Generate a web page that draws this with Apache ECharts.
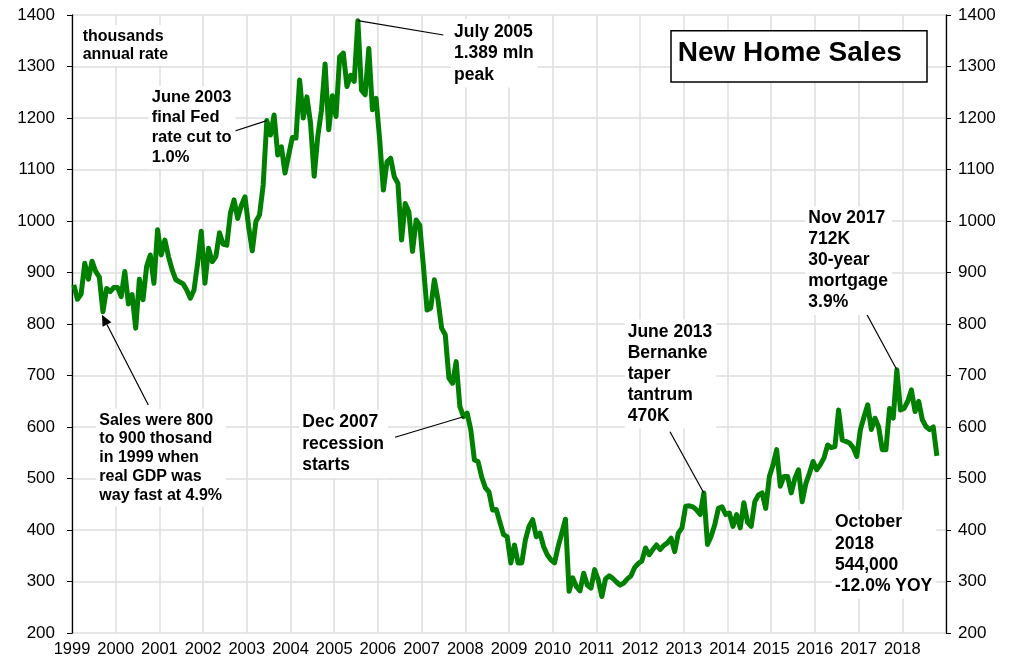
<!DOCTYPE html>
<html><head><meta charset="utf-8">
<script src="https://cdn.jsdelivr.net/npm/echarts@6/dist/echarts.min.js"></script>
<style>html,body{margin:0;padding:0;background:#fff}#c{width:1026px;height:659px}</style>
</head><body><div id="c"></div>
<script>
// New home sales, thousands, seasonally adjusted annual rate (monthly, Jan 1999 - Oct 2018)
const startYear = 1999;
const sales1999 = [876, 848, 858, 918, 887, 922, 902, 891, 824, 869, 863, 871];
const sales2000 = [871, 853, 902, 839, 857, 792, 887, 847, 912, 934, 879, 983];
const sales2001 = [934, 963, 931, 905, 886, 882, 878, 866, 850, 866, 918, 980];
const sales2002 = [879, 947, 921, 931, 977, 955, 953, 1015, 1041, 1005, 1030, 1047];
const sales2003 = [989, 942, 999, 1012, 1070, 1195, 1167, 1206, 1128, 1144, 1093, 1128];
const sales2004 = [1162, 1161, 1274, 1200, 1241, 1190, 1087, 1165, 1215, 1305, 1177, 1243];
const sales2005 = [1203, 1319, 1326, 1261, 1283, 1271, 1389, 1254, 1245, 1335, 1216, 1238];
const sales2006 = [1157, 1060, 1115, 1122, 1086, 1073, 963, 1034, 1018, 941, 1002, 992];
const sales2007 = [912, 827, 831, 886, 847, 792, 779, 695, 685, 727, 640, 620];
const sales2008 = [627, 595, 536, 533, 503, 482, 474, 439, 440, 415, 391, 387];
const sales2009 = [336, 371, 336, 336, 381, 407, 420, 387, 394, 368, 352, 342];
const sales2010 = [336, 368, 394, 421, 281, 307, 290, 282, 316, 293, 287, 323];
const sales2011 = [303, 271, 305, 311, 306, 299, 293, 297, 305, 311, 327, 335];
const sales2012 = [340, 365, 352, 362, 371, 362, 370, 375, 384, 358, 394, 404];
const sales2013 = [446, 447, 445, 439, 430, 472, 372, 388, 410, 442, 445, 430];
const sales2014 = [433, 407, 430, 404, 453, 415, 407, 455, 468, 472, 442, 504];
const sales2015 = [526, 556, 485, 504, 504, 472, 500, 517, 455, 490, 510, 533];
const sales2016 = [517, 527, 540, 565, 560, 562, 633, 575, 572, 569, 560, 543];
const sales2017 = [595, 620, 643, 595, 617, 600, 556, 556, 636, 617, 711, 633];
const sales2018 = [636, 650, 672, 630, 650, 614, 601, 595, 600, 544];
const salesByYear = [sales1999, sales2000, sales2001, sales2002, sales2003, sales2004, sales2005,
  sales2006, sales2007, sales2008, sales2009, sales2010, sales2011, sales2012, sales2013,
  sales2014, sales2015, sales2016, sales2017, sales2018];

const xMin = 1999, xMax = 2019;
const yMin = 200, yMax = 1400, yStep = 100;

const data = [];
salesByYear.forEach((arr, yi) => arr.forEach((v, mi) => data.push([startYear + yi + (mi + 0.5) / 12, v])));

const FONT = '"Liberation Sans", Arial, Helvetica, sans-serif';
const chart = echarts.init(document.getElementById('c'), null, {renderer: 'canvas'});
const yAxisBase = {
  type: 'value', min: yMin, max: yMax, interval: yStep,
  axisLine: {show: true, lineStyle: {color: '#000', width: 1.3}},
  axisTick: {show: true, length: 5, inside: false, lineStyle: {color: '#000', width: 1}},
};
chart.setOption({
  animation: false,
  backgroundColor: '#fff',
  grid: {left: 72, right: 80, top: 15, bottom: 26, containLabel: false},
  xAxis: {
    type: 'value', min: xMin, max: xMax, interval: 1,
    axisLine: {show: false}, axisTick: {show: false},
    axisLabel: {formatter: v => (v >= xMax ? '' : String(v)), fontSize: 16.5, color: '#000', fontFamily: FONT, margin: 8},
    splitLine: {show: true, lineStyle: {color: '#dedede', width: 1.5}}
  },
  yAxis: [
    Object.assign({}, yAxisBase, {position: 'left',
      axisLabel: {formatter: v => String(v), fontSize: 17, color: '#000', fontFamily: FONT, margin: 17},
      splitLine: {show: true, lineStyle: {color: '#dedede', width: 1.5}}}),
    Object.assign({}, yAxisBase, {position: 'right',
      axisLabel: {formatter: v => String(v), fontSize: 17, color: '#000', fontFamily: FONT, margin: 12},
      splitLine: {show: false}})
  ],
  series: [{
    type: 'line', data: data, yAxisIndex: 0, showSymbol: false, symbol: 'none',
    lineStyle: {color: '#008000', width: 5, join: 'round'}, z: 3
  }]
});

function pt(year, monthIdx) {
  const v = salesByYear[year - startYear][monthIdx];
  return chart.convertToPixel({seriesIndex: 0}, [year + (monthIdx + 0.5) / 12, v]);
}

function label(text, left, top, size, lh) {
  return {
    type: 'text', z: 20, x: left - 3, y: top - 2,
    style: {text: text, font: 'bold ' + size + 'px ' + FONT, fill: '#000', lineHeight: lh,
      backgroundColor: '#fff', padding: [2, 4, 2, 3], align: 'left', verticalAlign: 'top'}
  };
}
function seg(a, b) {
  return {type: 'line', z: 15, shape: {x1: a[0], y1: a[1], x2: b[0], y2: b[1]},
    style: {stroke: '#000', lineWidth: 1.2}};
}

const pJun03 = pt(2003, 5), pJul05 = pt(2005, 6), pSep99 = pt(1999, 8),
      pDec07 = pt(2007, 11), pJun13 = pt(2013, 5), pNov17 = pt(2017, 10);

// arrow for 1999 note
const tail = [148.3, 405];
const tip = [pSep99[0] - 1, pSep99[1] + 3];
const dx = tip[0] - tail[0], dy = tip[1] - tail[1], len = Math.hypot(dx, dy);
const ux = dx / len, uy = dy / len, px = -uy, py = ux;
const hl = 11, hw = 5;
const base = [tip[0] - hl * ux, tip[1] - hl * uy];

const graphics = [
  label('thousands\nannual rate', 82.7, 27, 16, 18.5),
  label('June 2003\nfinal Fed\nrate cut to\n1.0%', 151.7, 88, 16.5, 19.8),
  label('July 2005\n1.389 mln\npeak', 454, 21, 17.5, 21.5),
  label('Sales were 800\nto 900 thosand\nin 1999 when\nreal GDP was\nway fast at 4.9%', 99.3, 410.8, 16, 18.75),
  label('Dec 2007\nrecession\nstarts', 302.3, 411.7, 17.5, 21.5),
  label('June 2013\nBernanke\ntaper\ntantrum\n470K', 627.7, 321.5, 17.5, 21),
  label('Nov 2017\n712K\n30-year\nmortgage\n3.9%', 808.3, 208, 17.5, 21),
  label('October\n2018\n544,000\n-12.0% YOY', 835, 512, 17.5, 21.2),
  seg([231, 132.3], pJun03),
  seg(pJul05, [443.3, 35]),
  seg([395, 437.3], pDec07),
  seg([670, 431.7], pJun13),
  seg([862.7, 306.7], pNov17),
  seg(tail, base),
  {type: 'polygon', z: 16, shape: {points: [tip, [base[0] + hw * px, base[1] + hw * py], [base[0] - hw * px, base[1] - hw * py]]},
    style: {fill: '#000'}},
  {type: 'rect', z: 20, shape: {x: 671, y: 30.7, width: 256, height: 51.3},
    style: {fill: '#fff', stroke: '#000', lineWidth: 1.5}},
  {type: 'text', z: 21, x: 677.7, y: 53,
    style: {text: 'New Home Sales', font: 'bold 28px ' + FONT, fill: '#000', align: 'left', verticalAlign: 'middle'}}
];
chart.setOption({graphic: graphics});
</script>
</body></html>
